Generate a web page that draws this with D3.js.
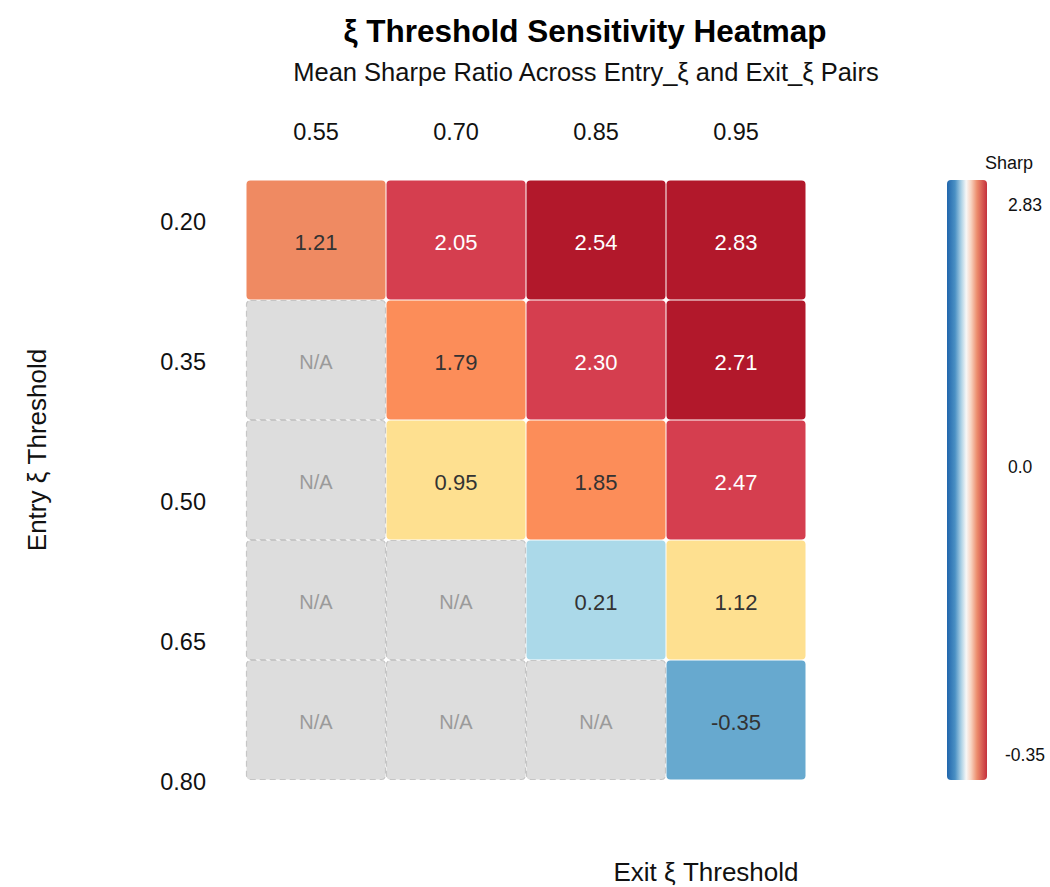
<!DOCTYPE html>
<html>
<head>
<meta charset="utf-8">
<script src="https://cdn.jsdelivr.net/npm/d3@7/dist/d3.min.js"></script>
<style>
  html, body { margin: 0; padding: 0; background: #fff; }
  svg { display: block; font-family: "Liberation Sans", Arial, Helvetica, sans-serif; }
</style>
</head>
<body>
<svg id="chart" width="1050" height="887"></svg>
<script>
const entryLabels = ["0.20", "0.35", "0.50", "0.65", "0.80"];
const exitLabels = ["0.55", "0.70", "0.85", "0.95"];
const sharpe = [
  [1.21, 2.05, 2.54, 2.83],
  [null, 1.79, 2.30, 2.71],
  [null, 0.95, 1.85, 2.47],
  [null, null, 0.21, 1.12],
  [null, null, null, -0.35]
];
const legendTicks = [2.83, 0.0, -0.35];
const legendTickText = ["2.83", "0.0", "-0.35"];

const svg = d3.select("#chart");

const x = d3.scaleBand().domain(exitLabels).range([246, 806]).padding(0);
const y = d3.scaleBand().domain(entryLabels).range([180, 780]).padding(0);
const yLabel = d3.scalePoint().domain(entryLabels).range([222, 782]);

const color = d3.scaleThreshold()
  .domain([0, 0.5, 1.2, 1.5, 2.0, 2.5])
  .range(["#67a9cf", "#abd9e9", "#fee090", "#ef8a62", "#fc8d59", "#d53e4f", "#b2182b"]);

const cells = [];
sharpe.forEach((row, i) => row.forEach((v, j) => cells.push({ entry: entryLabels[i], exit: exitLabels[j], v })));

const g = svg.append("g");
g.selectAll("rect.cell").data(cells).join("rect")
  .attr("class", "cell")
  .attr("x", d => x(d.exit) + 0.5)
  .attr("y", d => y(d.entry) + 0.5)
  .attr("width", x.bandwidth() - 1)
  .attr("height", y.bandwidth() - 1)
  .attr("rx", 4)
  .attr("fill", d => d.v === null ? "#dddddd" : color(d.v))
  .attr("stroke", d => d.v === null ? "#c6c6c6" : "none")
  .attr("stroke-width", 1.2)
  .attr("stroke-dasharray", d => d.v === null ? "6,4" : null);

g.selectAll("text.val").data(cells).join("text")
  .attr("class", "val")
  .attr("x", d => x(d.exit) + x.bandwidth() / 2)
  .attr("y", d => y(d.entry) + y.bandwidth() / 2 + 2)
  .attr("dy", "0.35em")
  .attr("text-anchor", "middle")
  .attr("font-size", d => d.v === null ? 20 : 22)
  .attr("fill", d => d.v === null ? "#9a9a9a" : (d.v >= 2 ? "#ffffff" : "#333333"))
  .text(d => d.v === null ? "N/A" : d.v.toFixed(2));

// x tick labels (top)
svg.append("g").selectAll("text").data(exitLabels).join("text")
  .attr("x", d => x(d) + x.bandwidth() / 2)
  .attr("y", 132).attr("dy", "0.35em")
  .attr("text-anchor", "middle")
  .attr("font-size", 23.5).attr("fill", "#111")
  .text(d => d);

// y tick labels
svg.append("g").selectAll("text").data(entryLabels).join("text")
  .attr("x", 206)
  .attr("y", d => yLabel(d)).attr("dy", "0.35em")
  .attr("text-anchor", "end")
  .attr("font-size", 23.5).attr("fill", "#111")
  .text(d => d);

// Titles
svg.append("text").attr("x", 585).attr("y", 31).attr("dy", "0.35em")
  .attr("text-anchor", "middle").attr("font-size", 31.5).attr("font-weight", "bold")
  .attr("fill", "#000").text("ξ Threshold Sensitivity Heatmap");
svg.append("text").attr("x", 586).attr("y", 72).attr("dy", "0.35em")
  .attr("text-anchor", "middle").attr("font-size", 25.5)
  .attr("fill", "#111").text("Mean Sharpe Ratio Across Entry_ξ and Exit_ξ Pairs");

svg.append("text").attr("x", 706).attr("y", 872).attr("dy", "0.35em")
  .attr("text-anchor", "middle").attr("font-size", 26)
  .attr("fill", "#111").text("Exit ξ Threshold");
svg.append("text")
  .attr("transform", "translate(37,450) rotate(-90)")
  .attr("dy", "0.35em")
  .attr("text-anchor", "middle").attr("font-size", 26)
  .attr("fill", "#111").text("Entry ξ Threshold");

// Legend
const defs = svg.append("defs");
const grad = defs.append("linearGradient").attr("id", "lg")
  .attr("x1", "0%").attr("x2", "100%").attr("y1", "0%").attr("y2", "0%");
const stops = [
  ["0%", "#2166ac"], ["20%", "#4a90c4"], ["35%", "#a9cfe4"], ["48%", "#f7f7f7"],
  ["60%", "#f8d3c0"], ["75%", "#ec8c6c"], ["100%", "#c5303c"]
];
stops.forEach(s => grad.append("stop").attr("offset", s[0]).attr("stop-color", s[1]));

const lx = 947, lw = 40;
const ly = d3.scaleLinear().domain([-0.35, 2.83]).range([755, 205]);
svg.append("rect").attr("x", lx).attr("y", 180).attr("width", lw).attr("height", 600)
  .attr("rx", 4).attr("fill", "url(#lg)");

svg.append("text").attr("x", 1009).attr("y", 163).attr("dy", "0.35em")
  .attr("text-anchor", "middle")
  .attr("font-size", 18).attr("fill", "#111").text("Sharp");

svg.append("g").selectAll("text").data(legendTicks).join("text")
  .attr("x", (d, i) => i === 2 ? 1005 : 1008)
  .attr("y", d => d === 0 ? 467 : ly(d)).attr("dy", "0.35em")
  .attr("font-size", 17.5).attr("fill", "#111")
  .text((d, i) => legendTickText[i]);
</script>
</body>
</html>
